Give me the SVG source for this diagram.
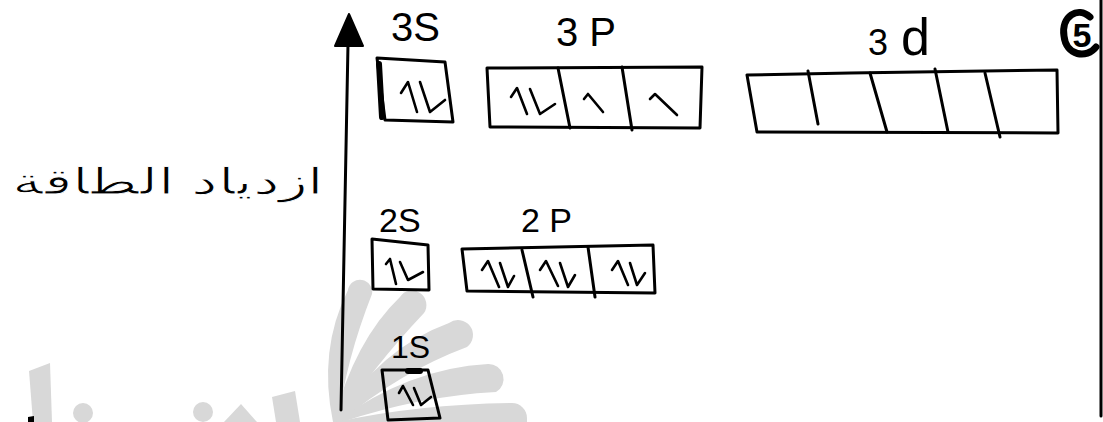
<svg xmlns="http://www.w3.org/2000/svg" width="1103" height="422" viewBox="0 0 1103 422">
<style>
.ln{fill:none;stroke:#000;stroke-width:3;stroke-linecap:round;stroke-linejoin:round}
.thick{stroke-width:6}
.heavy{stroke-width:7}
.ar{fill:none;stroke:#000;stroke-width:2.6;stroke-linecap:round;stroke-linejoin:round}
.lb{font-family:"Liberation Sans",Arial,sans-serif;fill:#000}
.wm{fill:#d8d8d8;stroke:none}
</style>
<rect width="1103" height="422" fill="#fff"/>
<g id="watermark">
<path class="wm" d="M29,371 L50,363 L52,422 L33,422 Z"/>
<circle class="wm" cx="83" cy="413" r="10"/>
<circle class="wm" cx="203" cy="412" r="10"/>
<path class="wm" d="M224,422 L241,404 L257,422 Z"/>
<path class="wm" d="M272,397 L295,391 L300,422 L276,422 Z"/>
<path class="wm" d="M333,422 Q318,350 348,290 A12,12 0 0 1 372,294 Q346,360 338,422 Z"/>
<path class="wm" d="M333,422 Q355,340 400,297 A14,14 0 0 1 424,313 Q372,368 338,422 Z"/>
<path class="wm" d="M334,422 Q380,348 449,323 A15,15 0 0 1 467,347 Q400,372 340,422 Z"/>
<path class="wm" d="M335,422 Q410,368 488,364 A15,15 0 0 1 496,392 Q420,396 342,422 Z"/>
<path class="wm" d="M336,422 Q420,404 512,403 A15,15 0 0 1 527,418 L527,422 Z"/>
<path d="M28,417 L34,416 L34,422 L28,422 Z" fill="#000"/>
</g>
<g id="border"><line class="ln" x1="1101" y1="0" x2="1101" y2="416"/></g>
<g id="connectors">
<path class="ln" d="M341,410 L348,44"/>
<path d="M349,14 L335,46 L363,46 Z" fill="#000" stroke="#000" stroke-width="2" stroke-linejoin="round"/>
</g>
<g id="energy-label">
<text class="lb" x="168" y="194" font-family="DejaVu Sans" font-size="36" text-anchor="middle" textLength="312" lengthAdjust="spacingAndGlyphs" stroke="#fff" stroke-width="0.9">ازدياد الطاقة</text>
</g>
<g id="n3s">
<text class="lb" x="391" y="41" font-size="40">3S</text>
<path class="ln" d="M377,58 L445,62 L453,122 L385,120 Z"/>
<path class="ln thick" d="M379,64 L382,117"/>
<path class="ar" d="M401,93 L408,82 L417,112 M420,82 L430,112 L445,100"/>
</g>
<g id="n3p">
<text class="lb" x="556" y="46" font-size="40">3 P</text>
<path class="ln" d="M487,68 L702,67 L700,128 L490,127 Z"/>
<path class="ln" d="M558,68 L570,128 M622,67 L632,130"/>
<path class="ar" d="M511,97 L517,88 L527,114 M530,89 L540,114 L555,104"/>
<path class="ar" d="M584,99 L588,94 L603,112"/>
<path class="ar" d="M650,99 L655,94 L677,115"/>
</g>
<g id="n3d">
<text class="lb" x="868" y="55" font-size="36">3</text>
<text class="lb" x="901" y="55" font-size="52">d</text>
<path class="ln" d="M747,75 L850,73 L1057,70 L1058,133 L757,132 Z"/>
<path class="ln" d="M808,71 L818,124 M870,73 L887,132 M935,69 L948,132 M985,73 L1000,137"/>
</g>
<g id="n5">
<path class="ln heavy" d="M1090,17 C1078,6 1061,16 1064,36 C1066,56 1087,59 1096,47"/>
<text class="lb" x="1082" y="47" font-size="34" font-weight="bold" text-anchor="middle">5</text>
</g>
<g id="n2s">
<text class="lb" x="379" y="232" font-size="34">2S</text>
<path class="ln" d="M372,239 L428,245 L429,290 L373,289 Z"/>
<path class="ar" d="M386,264 L390,259 L396,284 M400,262 L408,280 L423,272"/>
</g>
<g id="n2p">
<text class="lb" x="521" y="232" font-size="34">2 P</text>
<path class="ln" d="M462,249 L653,245 L655,293 L467,291 Z"/>
<path class="ln" d="M522,250 L533,297 M588,247 L595,297"/>
<path class="ar" d="M482,270 L488,261 L499,287 M500,263 L508,287 L514,276"/>
<path class="ar" d="M540,270 L546,261 L558,286 M560,263 L568,287 L575,275"/>
<path class="ar" d="M612,270 L618,261 L628,285 M630,263 L637,285 L645,273"/>
</g>
<g id="n1s">
<text class="lb" x="391" y="358" font-size="32">1S</text>
<path class="ln" d="M382,370 L428,370 L440,418 L388,420 Z"/>
<path class="ln thick" d="M408,371 L420,371"/>
<path class="ar" d="M399,393 L403,386 L413,405 M414,388 L421,405 L431,397"/>
</g>
</svg>
